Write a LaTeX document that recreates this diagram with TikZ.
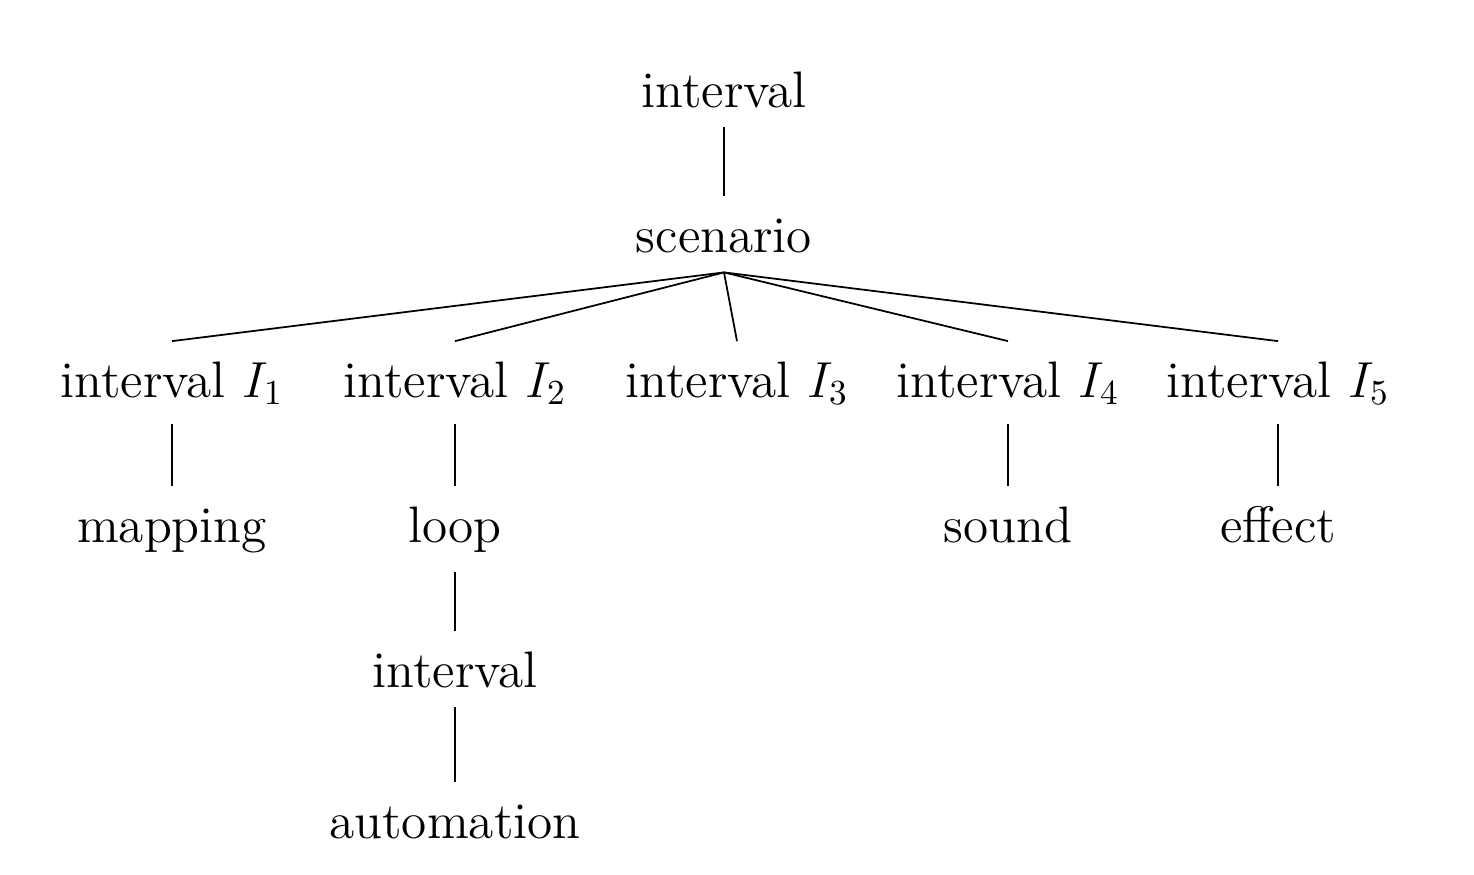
\documentclass[tikz,border=0pt]{standalone}
\usepackage{fontspec}
\usepackage{amsmath}

\begin{document}
\begin{tikzpicture}[x = 1cm, y = 1cm, % plain cm grid
                line width = 0.5pt % line style
            ]

            \tikzstyle{every node}=[inner xsep = 0pt, inner ysep = 1.9mm,
            text height = 3.6mm, anchor = base,
            font = \fontsize{14.6}{17.5}\selectfont]

            \useasboundingbox (0,0) rectangle (14.74,-8.74);

            \node (root) at (7.24,-1.07) {interval};
            \node (scen) at (7.24,-2.52) {scenario};
            \node (i1) at (1.72,-3.97) {interval $I_1$};
            \node (i2) at (4.55,-3.97) {interval $I_2$};
            \node (i3) at (7.37,-3.97) {interval $I_3$};
            \node (i4) at (10.08,-3.97) {interval $I_4$};
            \node (i5) at (12.78,-3.97) {interval $I_5$};
            \node (map) at (1.72,-5.42) {mapping};
            \node (loop) at (4.55,-5.42) {loop};
            \node (snd) at (10.08,-5.42) {sound};
            \node (eff) at (12.78,-5.42) {effect};
            \node (sub) at (4.55,-6.87) {interval};
            \node (auto) at (4.55,-8.38) {automation};


            \path (root) edge (scen); \path (scen.south) edge (i1.north);
            \path (scen.south) edge (i2.north); \path (scen.south) edge
            (i3.north); \path (scen.south) edge (i4.north); \path
            (scen.south) edge (i5.north); \path (i1) edge (map); \path (i2)
            edge (loop); \path (i4) edge (snd); \path (i5) edge (eff);
            \path (loop) edge (sub); \path (sub) edge (auto);
\end{tikzpicture}
\end{document}
